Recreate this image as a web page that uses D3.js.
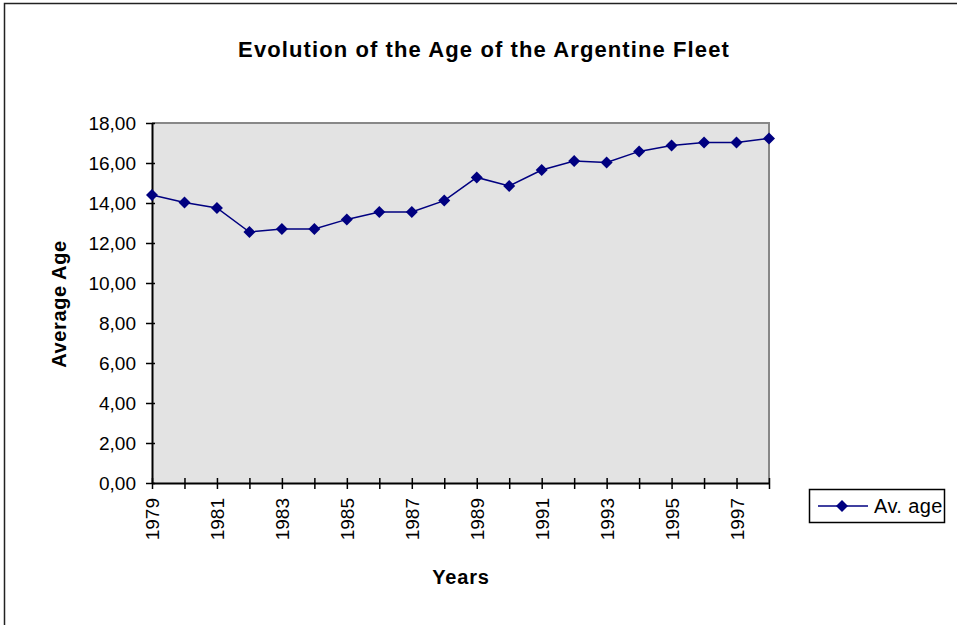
<!DOCTYPE html>
<html><head><meta charset="utf-8">
<script src="https://cdn.jsdelivr.net/npm/d3@7"></script>
<style>body{margin:0;background:#fff}svg{display:block}text{font-family:"Liberation Sans",Arial,sans-serif}</style>
</head><body><svg id="c" width="957" height="625"></svg>
<script>
const years = ["1979","1980","1981","1982","1983","1984","1985","1986","1987","1988","1989","1990","1991","1992","1993","1994","1995","1996","1997","1998"];
const avAge = [14.40,14.02,13.75,12.55,12.70,12.70,13.18,13.55,13.55,14.12,15.28,14.85,15.65,16.10,16.03,16.58,16.87,17.02,17.02,17.23];
const yTicks = [0,2,4,6,8,10,12,14,16,18];
const labelYears = years.filter((d,i)=>i%2===0 && i<19);

const svg = d3.select("#c");
const L=152,R=769,T=123,B=483;
svg.append("rect").attr("x",4.5).attr("y",3.5).attr("width",1000).attr("height",1000).attr("fill","none").attr("stroke","#222").attr("stroke-width",1.5);

const x = d3.scalePoint().domain(years).range([L,R]);
const y = d3.scaleLinear().domain([0,18]).range([B,T]);

svg.append("rect").attr("x",L).attr("y",T).attr("width",R-L).attr("height",B-T).attr("fill","#e3e3e3");
svg.append("path").attr("d",`M${L},${T}H${R}V${B}`).attr("fill","none").attr("stroke","#888").attr("stroke-width",2);

const fmt = d=>d3.format(".2f")(d).replace(".",",");
const ya = svg.append("g").attr("transform",`translate(${L},0)`)
  .call(d3.axisLeft(y).tickValues(yTicks).tickFormat(fmt).tickSizeOuter(0).tickSizeInner(6));
ya.selectAll(".tick line").attr("x2",-6).attr("x1",3);
ya.select(".domain").attr("stroke-width",2);
ya.selectAll("text").attr("font-size",19).attr("fill","#000").attr("dy","0.36em").attr("x",-16);
ya.selectAll("line").attr("stroke","#000").attr("stroke-width",1.5);

const xa = svg.append("g").attr("transform",`translate(0,${B})`)
  .call(d3.axisBottom(x).tickValues(years).tickFormat(d=>labelYears.includes(d)?d:"").tickSizeOuter(0).tickSizeInner(6));
xa.selectAll(".tick line").attr("y1",-5).attr("y2",6);
xa.select(".domain").attr("stroke-width",2);
xa.selectAll("line").attr("stroke","#000").attr("stroke-width",1.5);
xa.selectAll("text").attr("font-size",19).attr("fill","#000")
  .attr("transform","rotate(-90)").attr("text-anchor","end").attr("x",-15).attr("y",0).attr("dy","0.36em");

const line = d3.line().x((d,i)=>x(years[i])).y(d=>y(d));
svg.append("path").datum(avAge).attr("d",line).attr("fill","none").attr("stroke","#000080").attr("stroke-width",1.5);
const diamond = "M0,-6L6,0L0,6L-6,0Z";
svg.selectAll(".pt").data(avAge).join("path").attr("class","pt")
  .attr("transform",(d,i)=>`translate(${x(years[i])},${y(d)})`).attr("d",diamond).attr("fill","#000080");

svg.append("text").attr("x",484).attr("y",57).attr("text-anchor","middle").attr("font-size",22).attr("letter-spacing","1.1px").attr("font-weight","bold").text("Evolution of the Age of the Argentine Fleet");
svg.append("text").attr("transform","translate(66,304) rotate(-90)").attr("text-anchor","middle").attr("font-size",20).attr("letter-spacing","0.6px").attr("font-weight","bold").text("Average Age");
svg.append("text").attr("x",461).attr("y",584).attr("text-anchor","middle").attr("font-size",20).attr("letter-spacing","0.8px").attr("font-weight","bold").text("Years");

const lg = svg.append("g");
lg.append("rect").attr("x",809.5).attr("y",489.5).attr("width",135).attr("height",33).attr("fill","#fff").attr("stroke","#000").attr("stroke-width",1.5);
lg.append("line").attr("x1",818).attr("x2",868).attr("y1",506).attr("y2",506).attr("stroke","#000080").attr("stroke-width",1.5);
lg.append("path").attr("transform","translate(842,506)").attr("d",diamond).attr("fill","#000080");
lg.append("text").attr("x",874).attr("y",513).attr("font-size",20).attr("letter-spacing","0.4px").text("Av. age");
</script></body></html>
